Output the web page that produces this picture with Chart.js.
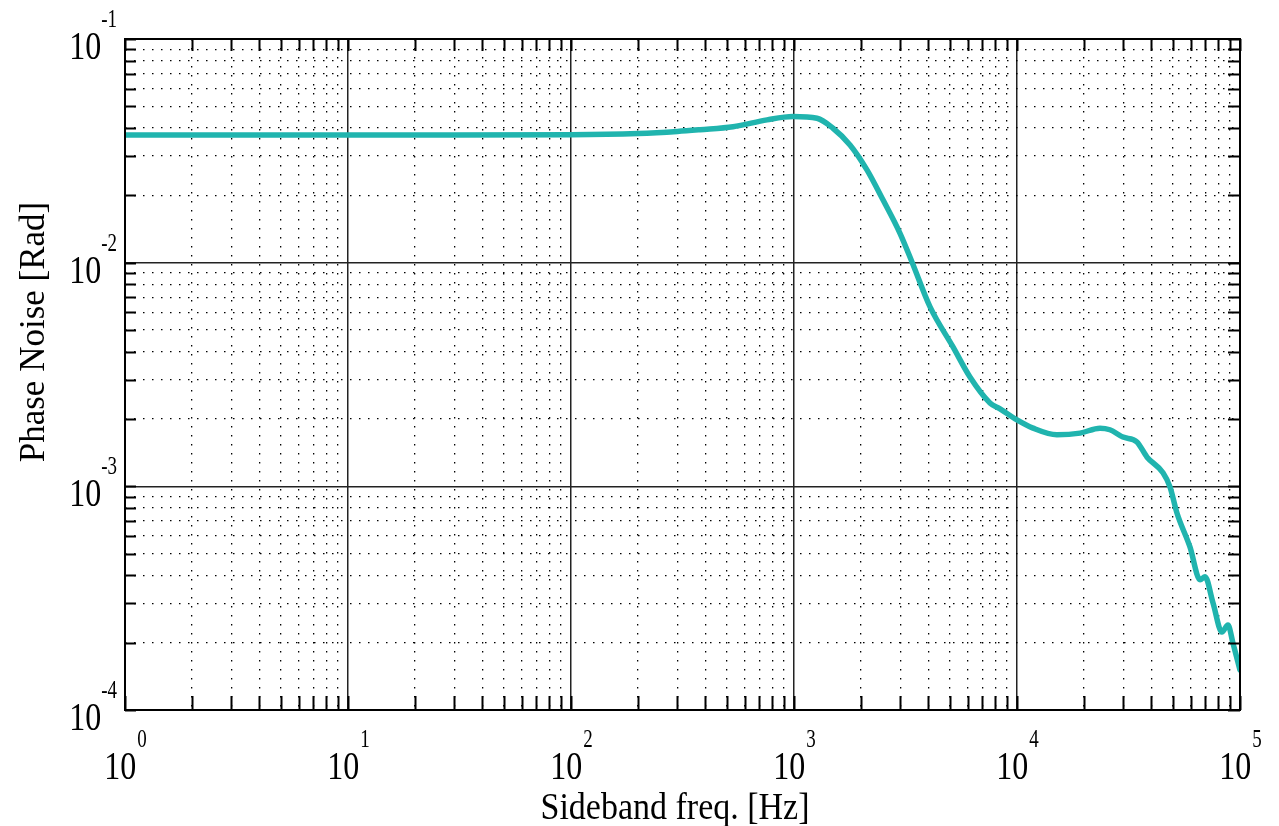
<!DOCTYPE html>
<html>
<head>
<meta charset="utf-8">
<script src="https://cdn.jsdelivr.net/npm/chart.js@4/dist/chart.umd.min.js"></script>
<style>
  body { margin: 0; background: #fff; }
  #wrap { width: 1279px; height: 826px; }
</style>
</head>
<body>
<div id="wrap"><canvas id="canvas" width="1279" height="826"></canvas></div>
<script>
// values (Hz, Rad)
var freq = [1, 3, 10, 30, 100, 200, 300, 379, 533, 757, 990, 1268, 1496, 1783, 2124, 2506, 2988, 3381, 4074, 5164, 6153, 7563, 8390, 10000, 11800, 15100, 19180, 23560, 26100, 29870, 34500, 38300, 45150, 48530, 52150, 59650, 66200, 69700, 75700, 83000, 88300, 93000, 100000]
var phaseNoise = [0.0372, 0.0372, 0.0372, 0.0372, 0.0373, 0.0378, 0.0386, 0.0393, 0.0405, 0.0435, 0.0450, 0.0442, 0.0399, 0.0336, 0.0260, 0.0191, 0.01353, 0.01007, 0.00634, 0.00420, 0.00308, 0.00236, 0.00222, 0.00198, 0.00182, 0.00170, 0.00173, 0.00182, 0.00179, 0.00166, 0.00158, 0.00135, 0.00115, 0.000994, 0.00076, 0.000536, 0.000382, 0.000394, 0.000301, 0.000223, 0.000240, 0.000199, 0.000151]

var xDecades = [1, 10, 100, 1000, 10000, 100000]
var xExponents = ['0', '1', '2', '3', '4', '5']
var yDecades = [0.0001, 0.001, 0.01, 0.1]
var yExponents = ['-4', '-3', '-2', '-1']

var serif = '"Liberation Serif", "Times New Roman", serif'

function decadeTicks(decades) {
    var out = []
    for (var i = 0; i < decades.length; i++) {
        var d = decades[i]
        out.push({ value: d, major: true })
        if (i == decades.length - 1) break
        for (var k = 2; k <= 9; k++) {
            out.push({ value: parseFloat((k * d).toPrecision(3)), major: false })
        }
    }
    return out
}

function isMajor(c) {
    return c.tick && Math.abs(Math.log10(c.tick.value) - Math.round(Math.log10(c.tick.value))) < 1e-6
}

function txt(ctx, s, x, y, size, align, sy) {
    ctx.save()
    ctx.font = size + 'px ' + serif
    ctx.textAlign = align
    ctx.textBaseline = 'alphabetic'
    ctx.translate(x, y)
    ctx.scale(1, sy)
    ctx.fillText(s, 0, 0)
    ctx.restore()
}

var decor = {
    id: 'decor',
    afterDraw: function(chart) {
        var ctx = chart.ctx
        var a = chart.chartArea
        var xs = chart.scales.x, ys = chart.scales.y
        ctx.save()
        ctx.strokeStyle = '#000'
        ctx.lineWidth = 2
        // inner tick marks
        xs.ticks.forEach(function(t) {
            var px = Math.round(xs.getPixelForValue(t.value)) + 0.5
            ctx.beginPath()
            ctx.moveTo(px, a.bottom); ctx.lineTo(px, a.bottom - 14)
            ctx.moveTo(px, a.top); ctx.lineTo(px, a.top + 12)
            ctx.stroke()
        })
        ys.ticks.forEach(function(t) {
            var py = Math.round(ys.getPixelForValue(t.value)) + 0.5
            ctx.beginPath()
            ctx.moveTo(a.left, py); ctx.lineTo(a.left + 11, py)
            ctx.moveTo(a.right, py); ctx.lineTo(a.right - 12, py)
            ctx.stroke()
        })
        // frame
        ctx.strokeRect(a.left, a.top, a.right - a.left, a.bottom - a.top)

        ctx.fillStyle = '#000'
        // x tick labels
        xDecades.forEach(function(v, i) {
            var px = xs.getPixelForValue(v)
            ctx.font = '32px ' + serif
            var w1 = ctx.measureText('10').width
            ctx.font = '19px ' + serif
            var w2 = ctx.measureText(xExponents[i]).width
            var x0 = px - (w1 + w2) / 2
            txt(ctx, '10', x0, a.bottom + 69, 32, 'left', 1.28)
            txt(ctx, xExponents[i], x0 + w1 + 1, a.bottom + 37, 19, 'left', 1.3)
        })
        // y tick labels
        yDecades.forEach(function(v, i) {
            var py = ys.getPixelForValue(v)
            var right = a.left - 8
            ctx.font = '19px ' + serif
            var w2 = ctx.measureText(yExponents[i]).width
            txt(ctx, yExponents[i], right, py - 12, 19, 'right', 1.3)
            txt(ctx, '10', right - w2, py + 20, 32, 'right', 1.28)
        })
        // axis titles
        ctx.save()
        ctx.translate(44, 332)
        ctx.rotate(-Math.PI / 2)
        ctx.font = '35px ' + serif
        ctx.textAlign = 'center'
        ctx.fillText('Phase Noise [Rad]', 0, 0)
        ctx.restore()
        txt(ctx, 'Sideband freq. [Hz]', 675, 819, 34, 'center', 1.1)
        ctx.restore()
    }
}

var chartCtx = document.getElementById('canvas').getContext('2d')

var phaseChart = new Chart(chartCtx, {
    type: 'line',
    data: {
        datasets: [{
            label: 'Phase Noise',
            data: freq.map(function(f, i) { return { x: f, y: phaseNoise[i] } }),
            borderColor: '#20b4ae',
            borderWidth: 5.5,
            pointRadius: 0,
            fill: false,
            cubicInterpolationMode: 'monotone',
            borderCapStyle: 'round',
            borderJoinStyle: 'round'
        }]
    },
    options: {
        responsive: false,
        animation: false,
        layout: { padding: { left: 125, top: 39, right: 39, bottom: 116 } },
        plugins: { legend: { display: false }, tooltip: { enabled: false } },
        scales: {
            x: {
                type: 'logarithmic',
                min: 1,
                max: 100000,
                afterBuildTicks: function(s) { s.ticks = decadeTicks(xDecades) },
                ticks: { display: false },
                grid: {
                    drawTicks: false,
                    color: function(c) { return isMajor(c) ? '#222' : '#000' },
                    lineWidth: function(c) { return isMajor(c) ? 1.5 : 1.3 }
                },
                border: {
                    display: false,
                    dash: function(c) { return (c.tick && !isMajor(c)) ? [1.5, 7.5] : [] }
                }
            },
            y: {
                type: 'logarithmic',
                min: 0.0001,
                max: 0.1,
                afterBuildTicks: function(s) { s.ticks = decadeTicks(yDecades) },
                ticks: { display: false },
                grid: {
                    drawTicks: false,
                    color: function(c) { return isMajor(c) ? '#222' : '#000' },
                    lineWidth: function(c) { return isMajor(c) ? 1.5 : 1.3 }
                },
                border: {
                    display: false,
                    dash: function(c) { return (c.tick && !isMajor(c)) ? [1.5, 7.5] : [] }
                }
            }
        }
    },
    plugins: [decor]
})
</script>
</body>
</html>
